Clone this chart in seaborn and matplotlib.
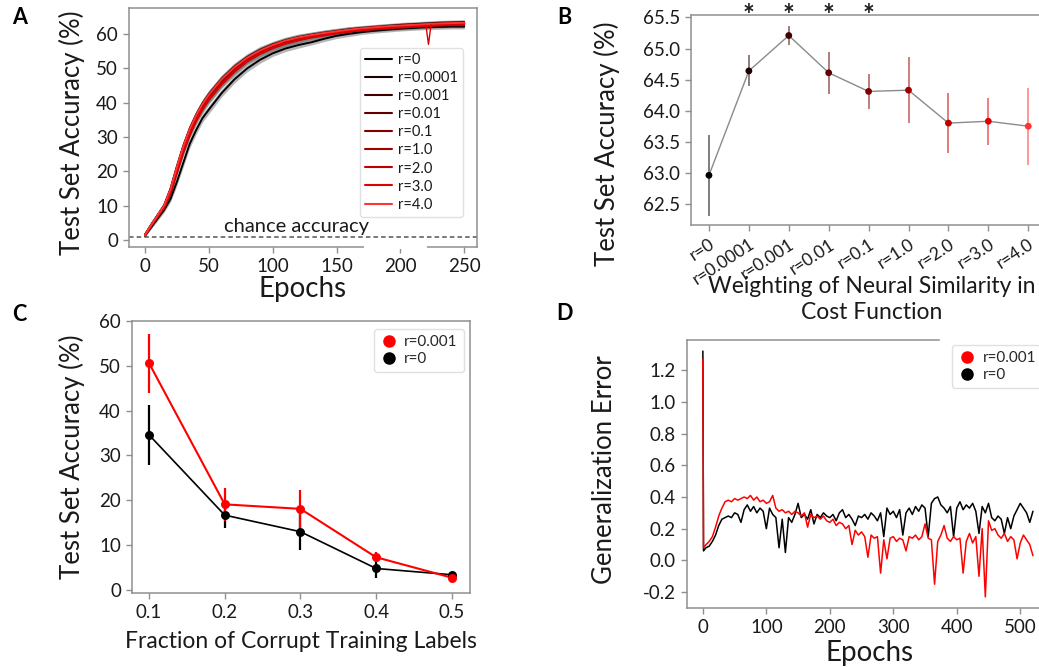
import numpy as np
import pandas as pd
import matplotlib
matplotlib.use('Agg')
import matplotlib.pyplot as plt
import matplotlib.transforms as mtransforms
from matplotlib.lines import Line2D
import seaborn as sns

sns.set_theme(style='white')
plt.rcParams['font.family'] = ['Lato', 'DejaVu Sans']
plt.rcParams['axes.unicode_minus'] = False

# ---------------- data ----------------
r_labels = ['r=0', 'r=0.0001', 'r=0.001', 'r=0.01', 'r=0.1', 'r=1.0', 'r=2.0', 'r=3.0', 'r=4.0']

# Panel A: test accuracy vs epoch
epochs_a = [0, 5, 10, 15, 20, 25, 30, 35, 40, 45, 50, 60, 70, 80, 90, 100, 110, 120, 130,
            140, 150, 160, 170, 180, 190, 200, 210, 220, 230, 240, 250]
acc_r0 = [1.3, 3.8, 6.3, 8.8, 12.0, 17.0, 22.5, 28.0, 32.0, 35.5, 38.0, 42.8, 46.8, 50.0, 52.5, 54.4,
          55.8, 56.8, 57.6, 58.6, 59.5, 60.1, 60.6, 61.0, 61.3, 61.6, 61.8, 62.0, 62.1, 62.2, 62.2]
acc_r00001 = [1.5, 4.4, 7.1, 9.9, 14.6, 21.0, 27.0, 32.0, 36.0, 39.3, 42.0, 46.5, 50.0, 52.9, 55.0, 56.6,
              57.9, 58.8, 59.6, 60.2, 60.7, 61.2, 61.6, 61.9, 62.2, 62.4, 62.6, 62.8, 63.0, 63.1, 63.2]
acc_r0001 = [1.6, 4.6, 7.4, 10.2, 15.0, 21.5, 27.5, 32.5, 36.5, 39.8, 42.5, 47.0, 50.5, 53.3, 55.4, 57.0,
             58.2, 59.1, 59.8, 60.4, 60.9, 61.4, 61.8, 62.1, 62.4, 62.7, 62.9, 63.1, 63.3, 63.4, 63.5]
acc_r001 = [1.5, 4.5, 7.2, 10.0, 14.8, 21.2, 27.2, 32.2, 36.2, 39.5, 42.2, 46.7, 50.2, 53.0, 55.1, 56.7,
            58.0, 58.9, 59.6, 60.2, 60.7, 61.2, 61.6, 61.9, 62.2, 62.4, 62.6, 62.8, 63.0, 63.1, 63.2]
acc_r01 = [1.5, 4.4, 7.0, 9.7, 14.2, 20.5, 26.5, 31.5, 35.5, 38.8, 41.5, 46.0, 49.6, 52.5, 54.7, 56.3,
           57.6, 58.6, 59.4, 60.0, 60.5, 61.0, 61.4, 61.7, 62.0, 62.2, 62.4, 62.6, 62.8, 62.9, 63.0]
acc_r1 = [1.4, 4.3, 6.9, 9.5, 14.0, 20.2, 26.2, 31.2, 35.2, 38.6, 41.3, 45.8, 49.4, 52.4, 54.6, 56.2,
          57.5, 58.5, 59.3, 59.9, 60.5, 61.0, 61.4, 61.7, 62.0, 62.2, 62.4, 62.6, 62.8, 62.9, 63.0]
acc_r2 = [1.4, 4.2, 6.8, 9.4, 13.6, 19.6, 25.5, 30.5, 34.6, 38.0, 40.8, 45.3, 49.0, 52.0, 54.2, 55.9,
          57.2, 58.2, 59.0, 59.6, 60.2, 60.7, 61.1, 61.4, 61.7, 61.9, 62.1, 62.3, 62.5, 62.6, 62.6]
acc_r3 = [1.4, 4.3, 7.0, 9.6, 14.0, 20.0, 26.0, 31.0, 35.0, 38.3, 41.0, 45.5, 49.2, 52.2, 54.4, 56.0,
          57.3, 58.3, 59.1, 59.7, 60.3, 60.8, 61.2, 61.5, 61.8, 62.0, 62.2, 62.4, 62.6, 62.7, 62.7]
acc_r4 = [1.5, 4.5, 7.3, 10.1, 14.9, 21.3, 27.3, 32.3, 36.3, 39.6, 42.3, 46.8, 50.3, 53.1, 55.2, 56.8,
          58.1, 59.0, 59.7, 60.3, 60.8, 61.3, 61.7, 62.0, 62.3, 62.5, 62.7, 62.9, 63.1, 63.2, 63.3]
std_a = [0.3, 0.5, 0.6, 0.7, 0.9, 1.1, 1.2, 1.2, 1.2, 1.2, 1.2, 1.1, 1.1, 1.0, 1.0, 0.9, 0.9, 0.9,
         0.8, 0.8, 0.8, 0.8, 0.7, 0.7, 0.7, 0.7, 0.7, 0.7, 0.7, 0.7, 0.7]
spike_epochs = [220, 222, 224]
spike_acc = [62.6, 57.0, 62.7]
chance_level = 1.0

# Panel B: final accuracy per weighting
b_means = [62.96, 64.64, 65.21, 64.61, 64.31, 64.33, 63.80, 63.83, 63.75]
b_err = [0.65, 0.25, 0.16, 0.34, 0.28, 0.53, 0.48, 0.38, 0.62]
b_signif = [1, 2, 3, 4]

# Panel C: corrupt labels
c_frac = [0.1, 0.2, 0.3, 0.4, 0.5]
c_r0001 = [50.6, 19.1, 18.1, 7.3, 2.75]
c_r0001_err = [6.6, 3.6, 4.3, 1.1, 0.4]
c_r0 = [34.6, 16.7, 13.0, 4.8, 3.4]
c_r0_err = [6.7, 2.9, 4.1, 2.1, 0.5]

# Panel D: generalization error
epochs_d = [0, 1] + list(range(5, 525, 5))
gen_r0001 = [1.27, 0.08,
             0.10, 0.12, 0.15, 0.21, 0.28, 0.33, 0.37, 0.38, 0.37, 0.39,
             0.38, 0.39, 0.40, 0.39, 0.41, 0.38, 0.40, 0.37, 0.38, 0.36,
             0.37, 0.41, 0.33, 0.31, 0.32, 0.30, 0.31, 0.29, 0.31, 0.30,
             0.28, 0.30, 0.21, 0.29, 0.27, 0.28, 0.26, 0.28, 0.25, 0.24,
             0.26, 0.22, 0.24, 0.23, 0.20, 0.22, 0.10, 0.19, 0.16, 0.18,
             0.15, 0.02, 0.16, 0.14, 0.15, -0.08, 0.13, 0.01, 0.14, 0.15,
             0.12, 0.14, 0.13, 0.06, 0.15, 0.14, 0.16, 0.13, 0.15, 0.23,
             0.14, 0.13, -0.15, 0.12, 0.16, 0.22, 0.14, 0.12, 0.15, 0.13,
             0.14, -0.08, 0.12, 0.17, 0.11, 0.15, -0.10, 0.20, -0.23, 0.25,
             0.19, 0.20, 0.16, 0.14, 0.17, 0.12, 0.15, 0.13, 0.01, 0.11,
             0.16, 0.13, 0.10, 0.03]
gen_r0 = [1.32, 0.06,
          0.08, 0.09, 0.12, 0.16, 0.22, 0.26, 0.27, 0.28, 0.27, 0.30,
          0.29, 0.24, 0.32, 0.35, 0.31, 0.34, 0.30, 0.33, 0.31, 0.20,
          0.33, 0.29, 0.27, 0.08, 0.26, 0.05, 0.27, 0.24, 0.29, 0.36,
          0.27, 0.29, 0.26, 0.32, 0.23, 0.29, 0.27, 0.30, 0.28, 0.27,
          0.29, 0.25, 0.30, 0.32, 0.27, 0.29, 0.26, 0.22, 0.28, 0.27,
          0.29, 0.26, 0.30, 0.28, 0.25, 0.30, 0.15, 0.33, 0.29, 0.31,
          0.27, 0.32, 0.16, 0.30, 0.33, 0.29, 0.34, 0.31, 0.35, 0.33,
          0.15, 0.36, 0.39, 0.40, 0.35, 0.33, 0.30, 0.34, 0.15, 0.33,
          0.37, 0.32, 0.35, 0.33, 0.36, 0.31, 0.17, 0.34, 0.30, 0.36,
          0.27, 0.25, 0.28, 0.26, 0.17, 0.27, 0.20, 0.28, 0.32, 0.36,
          0.33, 0.30, 0.24, 0.31]

# ---------------- styling helpers ----------------
W, H = 1039, 667
fig = plt.figure(figsize=(W / 100, H / 100), dpi=100)
fig.patch.set_facecolor('white')

SPINE = '#8f8f8f'
TXT = '#1a1a1a'
TICK_FS = 13.5
YLAB_FS = 18.5
LEG_FS = 11
r_colors = [(i / 8.0, 0.0, 0.0) for i in range(9)]
r_colors[-1] = (1.0, 0.2, 0.2)


def axes_px(l, t, r, b):
    return fig.add_axes([l / W, 1 - b / H, (r - l) / W, (b - t) / H])


def style(ax, spines=('left', 'bottom', 'top', 'right')):
    for s in ax.spines:
        ax.spines[s].set_visible(s in spines)
        ax.spines[s].set_color(SPINE)
        ax.spines[s].set_linewidth(1.1)
    ax.tick_params(axis='both', which='major', direction='out', length=4, width=1,
                   color=SPINE, labelsize=TICK_FS, pad=4, labelcolor=TXT,
                   left=True, bottom=True, top=False, right=False)
    ax.grid(False)


# ---------------- Panel A ----------------
ax_a = axes_px(129, 8, 477, 247)
style(ax_a)
series_a = [acc_r0, acc_r00001, acc_r0001, acc_r001, acc_r01, acc_r1, acc_r2, acc_r3, acc_r4]
rows = []
for lab, vals in zip(r_labels, series_a):
    for e, v, s in zip(epochs_a, vals, std_a):
        rows.append({'epoch': e, 'acc': v, 'std': s, 'r': lab})
df_a = pd.DataFrame(rows)
for lab in r_labels:
    sub = df_a[df_a.r == lab]
    ax_a.fill_between(sub.epoch, sub.acc - sub['std'], sub.acc + sub['std'],
                      color='#7a7a7a', alpha=0.55, lw=0, zorder=1)
sns.lineplot(data=df_a, x='epoch', y='acc', hue='r', hue_order=r_labels,
             palette=dict(zip(r_labels, r_colors)), lw=1.4, ax=ax_a, legend=False, zorder=2)
sns.lineplot(x=spike_epochs, y=spike_acc, color=r_colors[7], lw=1.0, ax=ax_a, zorder=3)
ax_a.axhline(chance_level, ls=(0, (3, 2)), color='#555555', lw=1.1, zorder=1)
ax_a.text(62, chance_level + 0.4, 'chance accuracy', fontsize=14.5, color=TXT,
          ha='left', va='bottom')
ax_a.set_xlim(-12.5, 260)
ax_a.set_ylim(-2, 67.6)
ax_a.set_xticks([0, 50, 100, 150, 200, 250])
ax_a.set_yticks([0, 10, 20, 30, 40, 50, 60])
ax_a.set_xlabel('Epochs', fontsize=20, color=TXT)
ax_a.set_ylabel('Test Set Accuracy (%)', fontsize=YLAB_FS, color=TXT)
ax_a.xaxis.set_label_coords(0.5, -0.122)
ax_a.yaxis.set_label_coords(-0.126, 0.479)
handles_a = [Line2D([0], [0], color=c, lw=1.5) for c in r_colors]
leg = ax_a.legend(handles_a, r_labels, loc='upper right', bbox_to_anchor=(0.96, 0.833),
                  borderaxespad=0, fontsize=10.5, labelspacing=0.28, handlelength=1.8,
                  handletextpad=0.45, borderpad=0.35, frameon=True)
leg.get_frame().set_edgecolor('#d9d9d9')
for t in leg.get_texts():
    t.set_color(TXT)
# broken bottom spine as in the reference
fig.add_artist(Line2D([366 / W, 425 / W], [1 - 247 / H] * 2, color='white', lw=3,
                      transform=fig.transFigure, zorder=10))

# ---------------- Panel B ----------------
ax_b = axes_px(691, 15, 1045, 225)
style(ax_b, spines=('left', 'bottom', 'top'))
xb = np.arange(len(r_labels))
df_b = pd.DataFrame({'x': xb, 'acc': b_means, 'err': b_err, 'r': r_labels})
sns.lineplot(data=df_b, x='x', y='acc', color='#8a8a8a', lw=1.0, ax=ax_b, zorder=2)
for i in range(len(xb)):
    ax_b.errorbar(xb[i], b_means[i], yerr=b_err[i], fmt='none', ecolor=r_colors[i],
                  alpha=0.55, elinewidth=1.3, capsize=0, zorder=1)
sns.scatterplot(data=df_b, x='x', y='acc', hue='r', hue_order=r_labels,
                palette=dict(zip(r_labels, r_colors)), s=24, linewidth=0,
                ax=ax_b, legend=False, zorder=3)
trans_b = mtransforms.blended_transform_factory(ax_b.transData, ax_b.transAxes)
for i in b_signif:
    ax_b.text(xb[i], 0.955, '*', transform=trans_b, ha='center', va='baseline',
              fontsize=20, fontweight='bold', color=TXT, clip_on=False)
ax_b.set_xlim(-0.45, 8.42)
ax_b.set_ylim(62.16, 65.54)
ax_b.set_yticks([62.5, 63.0, 63.5, 64.0, 64.5, 65.0, 65.5])
ax_b.set_yticklabels(['%.1f' % v for v in [62.5, 63.0, 63.5, 64.0, 64.5, 65.0, 65.5]])
ax_b.set_xticks(xb)
ax_b.set_xticklabels(r_labels, rotation=33, ha='right', rotation_mode='anchor')
ax_b.tick_params(axis='x', labelsize=12.5)
ax_b.set_xlabel('Weighting of Neural Similarity in\nCost Function', fontsize=16.5,
                color=TXT, linespacing=1.25)
ax_b.set_ylabel('Test Set Accuracy (%)', fontsize=YLAB_FS, color=TXT)
ax_b.xaxis.set_label_coords(0.511, -0.245)
ax_b.yaxis.set_label_coords(-0.2, 0.388)

# ---------------- Panel C ----------------
ax_c = axes_px(132, 321, 470, 593)
style(ax_c)
df_c = pd.DataFrame({'frac': c_frac * 2, 'acc': c_r0001 + c_r0,
                     'r': ['r=0.001'] * 5 + ['r=0'] * 5})
pal_c = {'r=0.001': '#ff0000', 'r=0': '#000000'}
for lab, vals, errs, lw in [('r=0', c_r0, c_r0_err, 1.2), ('r=0.001', c_r0001, c_r0001_err, 1.5)]:
    ax_c.errorbar(c_frac, vals, yerr=errs, fmt='none', ecolor=pal_c[lab],
                  elinewidth=1.6, capsize=0, zorder=1)
    sns.lineplot(data=df_c[df_c.r == lab], x='frac', y='acc', color=pal_c[lab], lw=lw,
                 ax=ax_c, zorder=2)
    sns.scatterplot(data=df_c[df_c.r == lab], x='frac', y='acc', color=pal_c[lab], s=42,
                    linewidth=0, ax=ax_c, zorder=3)
ax_c.set_xlim(0.0775, 0.524)
ax_c.set_ylim(-0.67, 60)
ax_c.set_xticks(c_frac)
ax_c.set_xticklabels(['%.1f' % v for v in c_frac])
ax_c.set_yticks([0, 10, 20, 30, 40, 50, 60])
ax_c.set_xlabel('Fraction of Corrupt Training Labels', fontsize=16.5, color=TXT)
ax_c.set_ylabel('Test Set Accuracy (%)', fontsize=YLAB_FS, color=TXT)
ax_c.xaxis.set_label_coords(0.5, -0.14)
ax_c.yaxis.set_label_coords(-0.139, 0.5)
handles_c = [Line2D([0], [0], marker='o', ls='', color='#ff0000', markersize=8),
             Line2D([0], [0], marker='o', ls='', color='#000000', markersize=8)]
leg = ax_c.legend(handles_c, ['r=0.001', 'r=0'], loc='upper right',
                  bbox_to_anchor=(0.982, 0.971), borderaxespad=0, fontsize=LEG_FS,
                  labelspacing=0.2, handlelength=1.2, handletextpad=0.4, borderpad=0.4)
leg.get_frame().set_edgecolor('#d9d9d9')

# ---------------- Panel D ----------------
ax_d = axes_px(687, 340, 1045, 608)
style(ax_d, spines=('left', 'bottom', 'top'))
df_d = pd.DataFrame({'epoch': epochs_d * 2, 'err': gen_r0 + gen_r0001,
                     'r': ['r=0'] * len(epochs_d) + ['r=0.001'] * len(epochs_d)})
sns.lineplot(data=df_d[df_d.r == 'r=0'], x='epoch', y='err', color='black', lw=1.1, ax=ax_d)
sns.lineplot(data=df_d[df_d.r == 'r=0.001'], x='epoch', y='err', color='#ff0000', lw=1.1, ax=ax_d)
ax_d.set_xlim(-25, 539)
ax_d.set_ylim(-0.30, 1.39)
ax_d.spines['top'].set_bounds(-25, 372)
ax_d.set_xticks([0, 100, 200, 300, 400, 500])
yt = [-0.2, 0.0, 0.2, 0.4, 0.6, 0.8, 1.0, 1.2]
ax_d.set_yticks(yt)
ax_d.set_yticklabels(['%.1f' % v for v in yt])
ax_d.set_xlabel('Epochs', fontsize=20, color=TXT)
ax_d.set_ylabel('Generalization Error', fontsize=YLAB_FS, color=TXT)
ax_d.xaxis.set_label_coords(0.511, -0.12)
ax_d.yaxis.set_label_coords(-0.196, 0.515)
handles_d = [Line2D([0], [0], marker='o', ls='', color='#ff0000', markersize=8),
             Line2D([0], [0], marker='o', ls='', color='#000000', markersize=8)]
leg = ax_d.legend(handles_d, ['r=0.001', 'r=0'], loc='upper left',
                  bbox_to_anchor=(0.74, 0.981), borderaxespad=0, fontsize=LEG_FS,
                  labelspacing=0.2, handlelength=1.2, handletextpad=0.4, borderpad=0.4)
leg.get_frame().set_edgecolor('#d9d9d9')

# ---------------- panel letters ----------------
for letter, x, y in [('A', 20, 17.5), ('B', 564.5, 17.5), ('C', 19.5, 314.5), ('D', 565, 314)]:
    fig.text(x / W, 1 - y / H, letter, fontsize=15.5, fontweight='bold', color='black',
             ha='center', va='center')

fig.savefig('out.png', dpi=100, facecolor='white')
